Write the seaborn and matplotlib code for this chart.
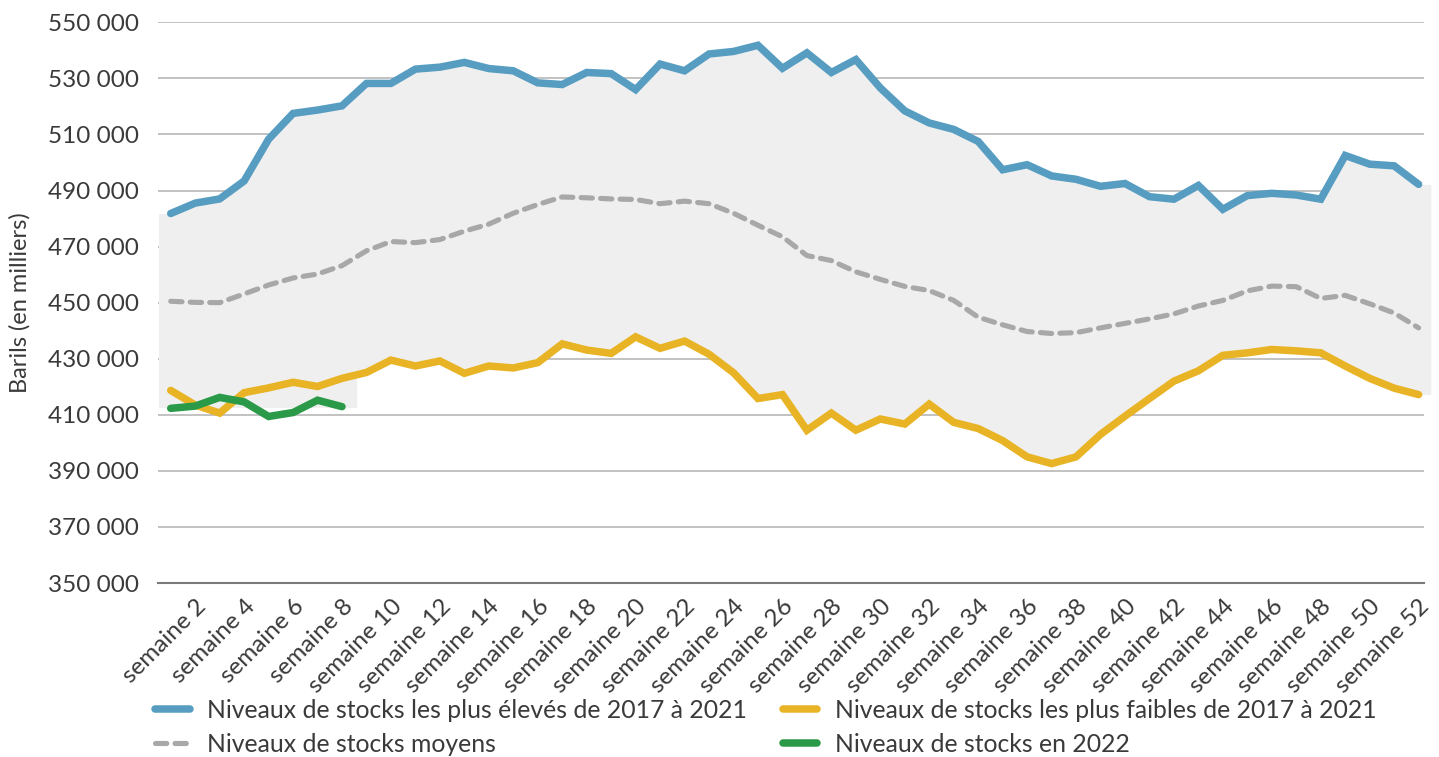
import numpy as np
import pandas as pd
import matplotlib
matplotlib.use("Agg")
import matplotlib.pyplot as plt
import seaborn as sns

# ---------------- data ----------------
weeks = list(range(1, 53))
tick_weeks = list(range(2, 53, 2))
tick_labels = [f"semaine {w}" for w in tick_weeks]

high = [481800, 485500, 487000, 493400, 508300, 517500, 518700, 520200, 528200, 528200,
        533300, 534000, 535700, 533500, 532700, 528400, 527800, 532100, 531700, 526000,
        535100, 532700, 538700, 539600, 541800, 533600, 539100, 532100, 536700, 526600,
        518400, 514100, 511800, 507500, 497400, 499200, 495200, 494000, 491500, 492500,
        487800, 486900, 491800, 483300, 488200, 489000, 488400, 486900, 502500, 499400,
        498800, 492200]

low = [418700, 413500, 410600, 417900, 419600, 421600, 420100, 423000, 425100, 429500,
       427400, 429200, 424800, 427400, 426700, 428600, 435300, 433100, 431900, 437800,
       433700, 436300, 431600, 425000, 415800, 417200, 404500, 410600, 404500, 408500,
       406700, 413800, 407300, 405100, 400800, 395000, 392600, 395000, 403000, 409500,
       415800, 422000, 425700, 431200, 432100, 433300, 432800, 432100, 427400, 423000,
       419500, 417200]

avg = [450500, 450100, 450000, 453100, 456300, 458800, 460200, 463200, 468500, 471800,
       471400, 472500, 475500, 478000, 481900, 485000, 487700, 487400, 487000, 486800,
       485300, 486200, 485300, 481900, 477600, 473500, 466800, 465000, 461000, 458300,
       455800, 454300, 450800, 444800, 442100, 439700, 439000, 439300, 441000, 442600,
       444200, 446000, 448800, 450800, 454200, 455900, 455700, 451500, 452600, 449600,
       446300, 441000]

weeks_2022 = [1, 2, 3, 4, 5, 6, 7, 8]
stock_2022 = [412300, 413100, 416200, 414600, 409400, 410800, 415200, 412900]
band_floor_2022 = 412600   # lower edge of the shaded band during the 2022 weeks

y_ticks = list(range(350000, 550001, 20000))

lab_high = "Niveaux de stocks les plus élevés de 2017 à 2021"
lab_low = "Niveaux de stocks les plus faibles de 2017 à 2021"
lab_avg = "Niveaux de stocks moyens"
lab_2022 = "Niveaux de stocks en 2022"

df = pd.DataFrame({"semaine": weeks, "haut": high, "bas": low, "moyen": avg})
df22 = pd.DataFrame({"semaine": weeks_2022, "stock": stock_2022})

# ---------------- style ----------------
sns.set_theme(style="white")
plt.rcParams["font.family"] = ["Lato", "DejaVu Sans"]
text_col = "#3A3A3A"

c_high = "#579DC1"
c_low = "#E8B425"
c_avg = "#A8A8A8"
c_2022 = "#2A9A48"
c_band = "#EFEFEF"

fig = plt.figure(figsize=(14.39, 7.57), dpi=100)
ax = fig.add_axes([158 / 1439, 1 - 583 / 757, (1424 - 158) / 1439, (583 - 22.3) / 757])

# shaded band between high and low (extended half a week at each end)
x_ext = np.concatenate([[weeks[0] - 0.5], weeks, [weeks[-1] + 0.5]])
hi_ext = np.concatenate([[high[0]], high, [high[-1]]])
lo_ext = np.concatenate([[low[0]], low, [low[-1]]])
ax.fill_between(x_ext, lo_ext, hi_ext, color=c_band, lw=0, zorder=1, clip_on=False)
# shaded part under the 2022 weeks
x22 = np.concatenate([[weeks_2022[0] - 0.5], weeks_2022, [weeks_2022[-1] + 0.6]])
lo22 = np.concatenate([[low[0]], low[:len(weeks_2022)], [low[len(weeks_2022) - 1]]])
ax.fill_between(x22, np.full(len(x22), band_floor_2022), np.maximum(lo22, band_floor_2022),
                color=c_band, lw=0, zorder=1)

for yv in y_ticks[1:]:
    ax.axhline(yv, color="#BDBDBD", lw=1.3, zorder=0.5)

sns.lineplot(data=df, x="semaine", y="haut", ax=ax, color=c_high, lw=5.4,
             label=lab_high, zorder=4, solid_capstyle="round", solid_joinstyle="miter")
sns.lineplot(data=df, x="semaine", y="moyen", ax=ax, color=c_avg, lw=3.7,
             label=lab_avg, zorder=3, dashes=False)
ax.lines[-1].set_linestyle((0, (2.2, 1.6)))
ax.lines[-1].set_dash_capstyle("round")
sns.lineplot(data=df, x="semaine", y="bas", ax=ax, color=c_low, lw=5.4,
             label=lab_low, zorder=4, solid_capstyle="round", solid_joinstyle="miter")
sns.lineplot(data=df22, x="semaine", y="stock", ax=ax, color=c_2022, lw=5.4,
             label=lab_2022, zorder=5, solid_capstyle="round", solid_joinstyle="miter")

ax.set_xlim(0.48, 52.22)
ax.set_ylim(350000, 550000)
ax.set_yticks(y_ticks)
ax.set_yticklabels([f"{v // 1000} 000" for v in y_ticks])
ax.set_xticks(tick_weeks)
ax.set_xticklabels(tick_labels, rotation=45, ha="right", rotation_mode="anchor")
ax.tick_params(axis="both", length=0, labelsize=17.5, colors=text_col)
ax.tick_params(axis="y", pad=14)
ax.tick_params(axis="x", pad=9)
ax.set_xlabel("")
ax.set_ylabel("Barils (en milliers)", fontsize=17, color=text_col, labelpad=12)

for s in ["top", "right", "left"]:
    ax.spines[s].set_visible(False)
ax.spines["bottom"].set_color("#7A7A7A")
ax.spines["bottom"].set_linewidth(1.5)

ax.get_legend().remove()
handles, labels = ax.get_legend_handles_labels()
order = [lab_high, lab_avg, lab_low, lab_2022]
hmap = dict(zip(labels, handles))
leg = fig.legend([hmap[l] for l in order], order, ncol=2, loc="upper left",
                 bbox_to_anchor=(155 / 1439, 1 - 699 / 757), frameon=False,
                 fontsize=17.8, handlelength=1.4, handletextpad=0.7,
                 columnspacing=1.45, labelspacing=0.45, borderaxespad=0, borderpad=0)
for t in leg.get_texts():
    t.set_color(text_col)

fig.savefig("out.png", dpi=100)
